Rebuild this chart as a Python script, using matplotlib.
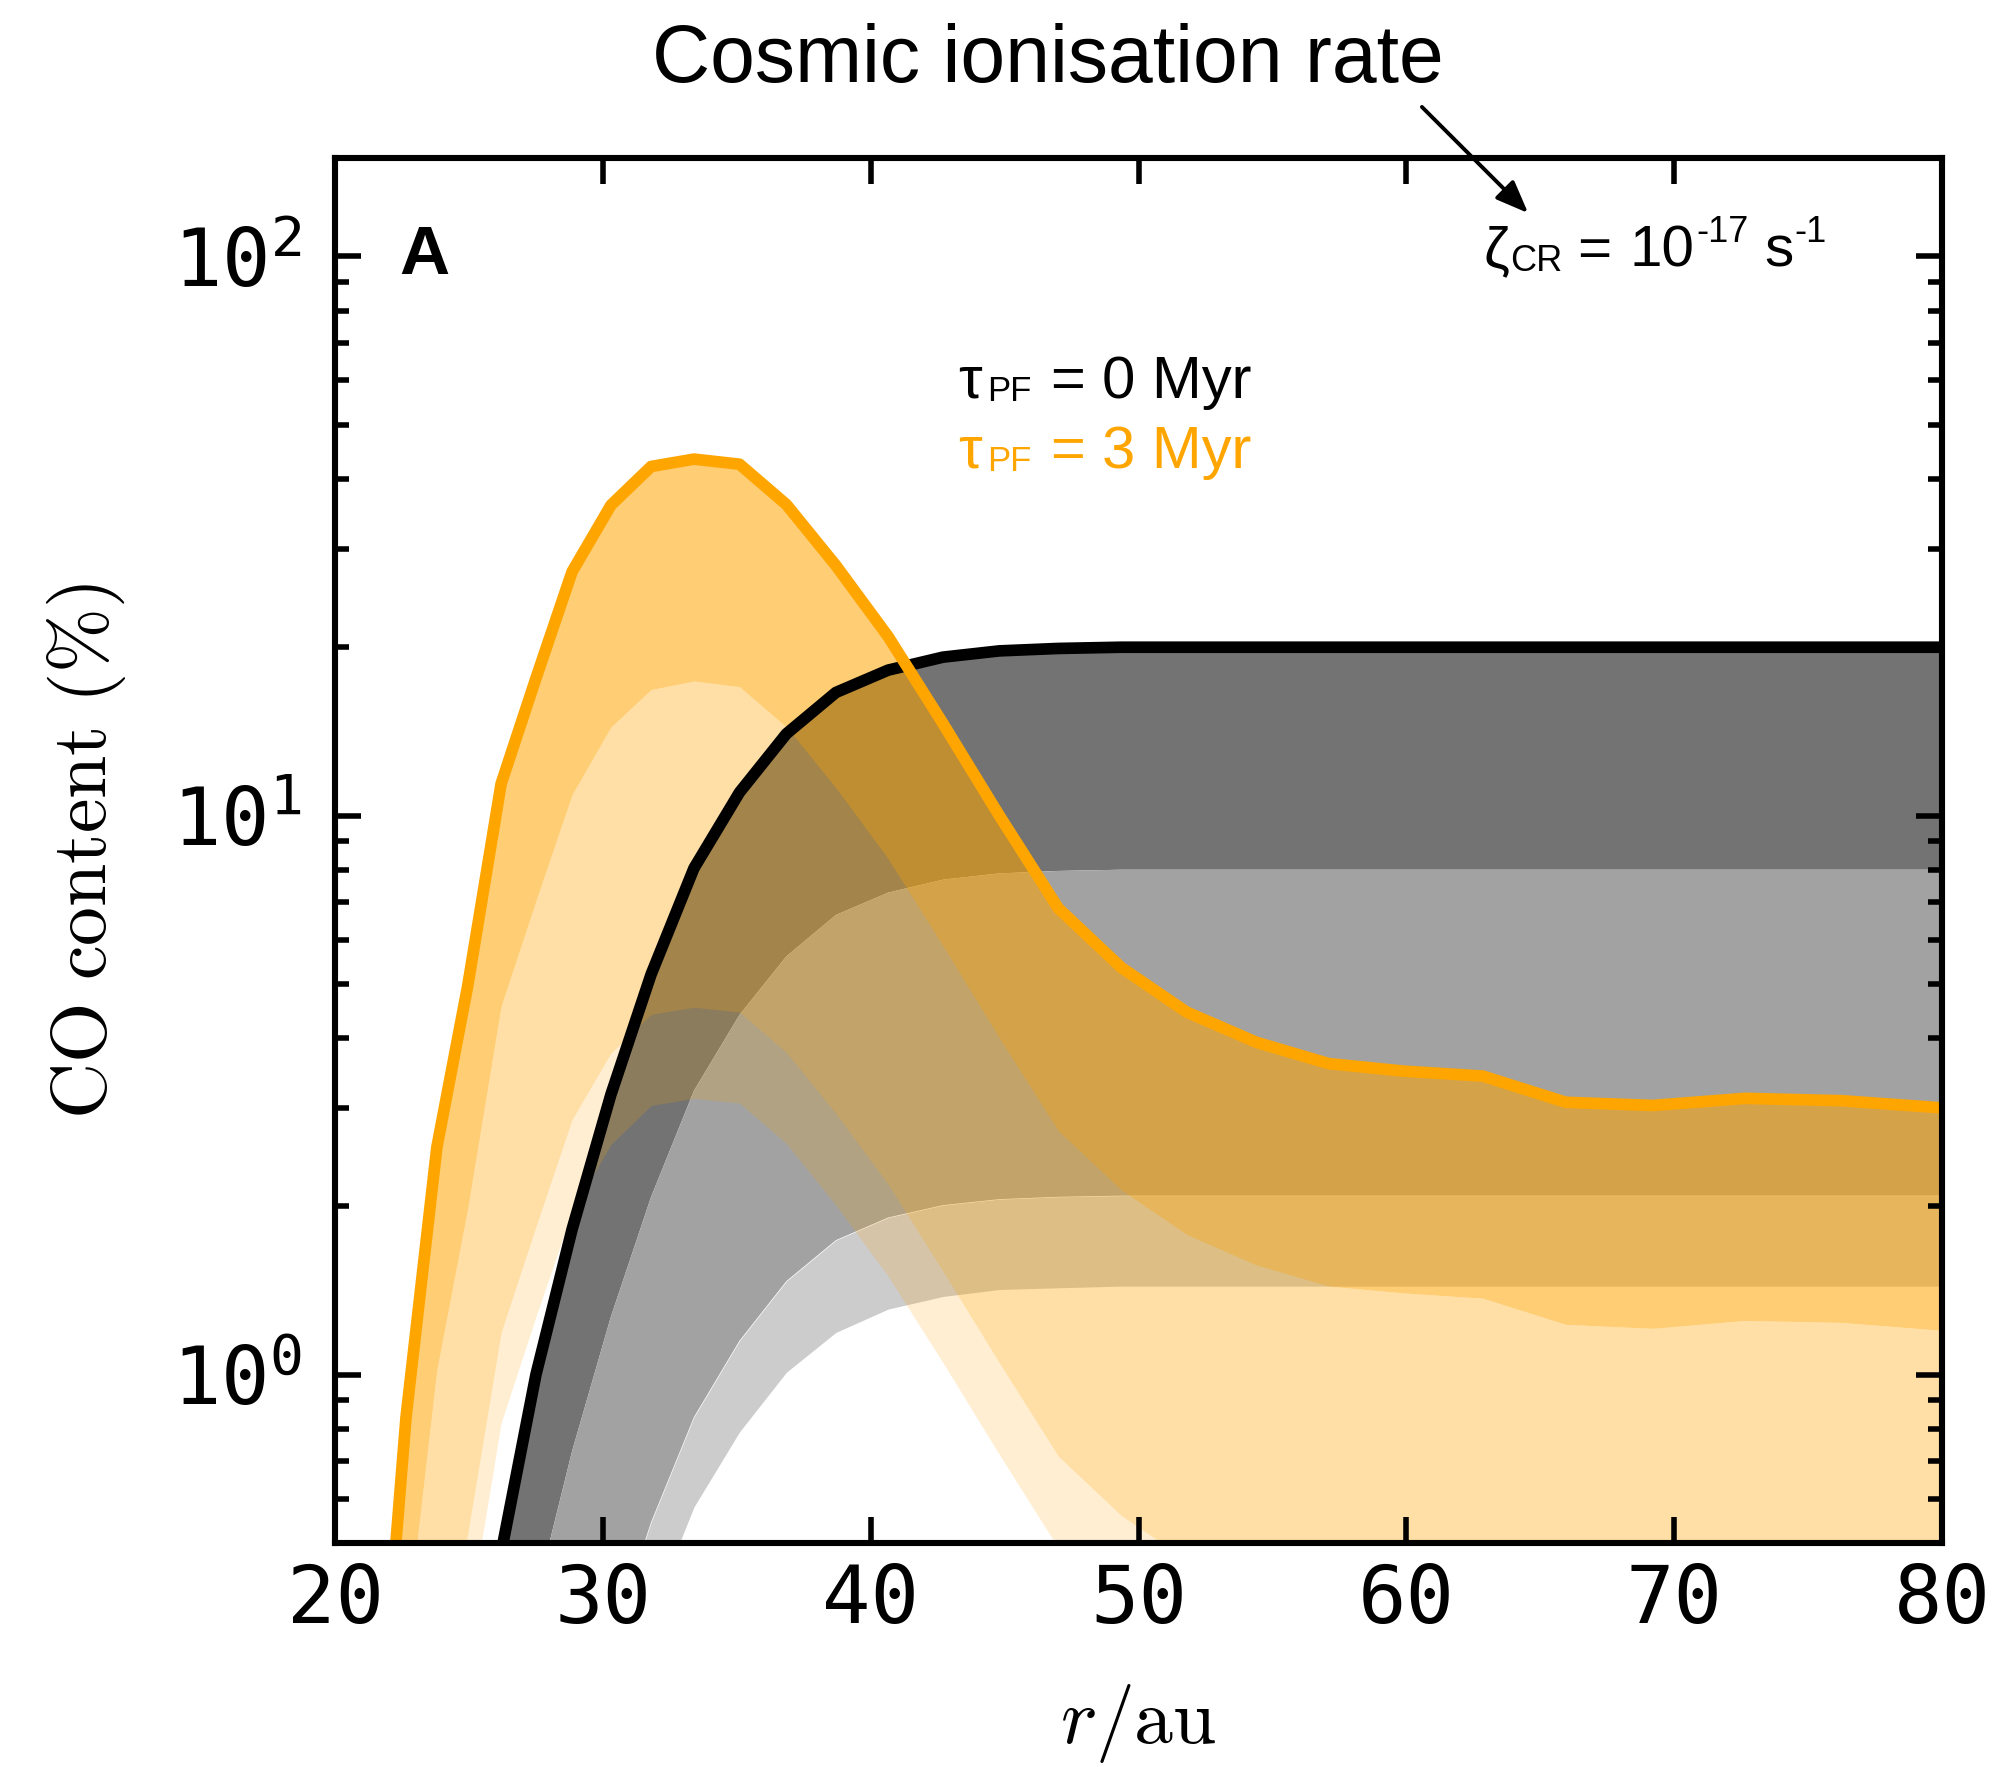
import matplotlib
matplotlib.use("Agg")
import matplotlib.pyplot as plt
from matplotlib.transforms import offset_copy

# radius grid (au) and CO content (%)
r_au = [21.6, 22.65, 23.8, 24.95, 26.2, 27.5, 28.85, 30.3, 31.8, 33.4, 35.1, 36.85,
        38.7, 40.65, 42.7, 44.8, 47.0, 49.35, 51.8, 54.4, 57.1, 59.9, 62.85, 65.95,
        69.2, 72.65, 76.25, 80.0]

# tau_PF = 0 Myr: median line and lower band edges
co_0myr = [0.02, 0.04, 0.08, 0.17, 0.48, 1.0, 1.82, 3.17, 5.2, 8.05, 11.0, 14.0,
           16.6, 18.2, 19.2, 19.7, 19.9, 20.0, 20.0, 20.0, 20.0, 20.0, 20.0, 20.0,
           20.0, 20.0, 20.0, 20.0]
co_0myr_b1 = [0.008, 0.016, 0.032, 0.068, 0.19, 0.4, 0.73, 1.27, 2.08, 3.22, 4.4, 5.6,
              6.64, 7.28, 7.68, 7.88, 7.96, 8.0, 8.0, 8.0, 8.0, 8.0, 8.0, 8.0,
              8.0, 8.0, 8.0, 8.0]
co_0myr_b2 = [0.002, 0.004, 0.008, 0.018, 0.05, 0.105, 0.19, 0.33, 0.545, 0.84, 1.15, 1.47,
              1.74, 1.91, 2.01, 2.06, 2.08, 2.09, 2.09, 2.09, 2.09, 2.09, 2.09, 2.09,
              2.09, 2.09, 2.09, 2.09]
co_0myr_b3 = [0.0015, 0.003, 0.006, 0.012, 0.035, 0.072, 0.13, 0.228, 0.374, 0.58, 0.79, 1.01,
              1.19, 1.31, 1.38, 1.42, 1.43, 1.44, 1.44, 1.44, 1.44, 1.44, 1.44, 1.44,
              1.44, 1.44, 1.44, 1.44]

# tau_PF = 3 Myr: median line and lower band edges
co_3myr = [0.2, 0.84, 2.55, 4.95, 11.4, 17.6, 27.3, 35.9, 42.1, 43.4, 42.5, 36.0,
           28.0, 20.9, 14.6, 10.0, 6.83, 5.35, 4.45, 3.93, 3.6, 3.49, 3.42, 3.07,
           3.03, 3.12, 3.09, 3.0]
co_3myr_b1 = [0.08, 0.34, 1.02, 1.98, 4.56, 7.04, 10.9, 14.4, 16.8, 17.4, 17.0, 14.4,
              11.2, 8.36, 5.84, 4.0, 2.73, 2.14, 1.78, 1.57, 1.44, 1.40, 1.37, 1.23,
              1.21, 1.25, 1.24, 1.2]
co_3myr_b2 = [0.021, 0.088, 0.267, 0.518, 1.19, 1.84, 2.86, 3.76, 4.41, 4.54, 4.45, 3.77,
              2.93, 2.19, 1.53, 1.05, 0.715, 0.56, 0.466, 0.41, 0.377, 0.365, 0.358, 0.321,
              0.317, 0.327, 0.324, 0.314]
co_3myr_b3 = [0.014, 0.06, 0.183, 0.356, 0.82, 1.27, 1.96, 2.58, 3.03, 3.12, 3.06, 2.59,
              2.01, 1.5, 1.05, 0.72, 0.49, 0.385, 0.32, 0.283, 0.259, 0.251, 0.246, 0.221,
              0.218, 0.224, 0.222, 0.216]

ORANGE = "#ffa500"
SANS = "Liberation Sans"

plt.rcParams["font.family"] = ["DejaVu Sans Mono"]

fig = plt.figure(figsize=(9.99, 8.835), dpi=200)
ax = fig.add_axes([0.1677, 0.1268, 0.8043, 0.7838])

# grey bands (0 Myr)
ax.fill_between(r_au, co_0myr_b1, co_0myr, color="#737373", lw=0)
ax.fill_between(r_au, co_0myr_b2, co_0myr_b1, color="#a2a2a2", lw=0)
ax.fill_between(r_au, co_0myr_b3, co_0myr_b2, color="#cccccc", lw=0)

# orange bands (3 Myr)
ax.fill_between(r_au, co_3myr_b1, co_3myr, color=ORANGE, alpha=0.55, lw=0)
ax.fill_between(r_au, co_3myr_b2, co_3myr_b1, color=ORANGE, alpha=0.35, lw=0)
ax.fill_between(r_au, co_3myr_b3, co_3myr_b2, color=ORANGE, alpha=0.18, lw=0)

ax.plot(r_au, co_0myr, color="black", lw=4.2)
ax.plot(r_au, co_3myr, color=ORANGE, lw=4.2)

ax.set_yscale("log")
ax.set_xlim(20, 80)
ax.set_ylim(0.5, 150)
ax.set_xticks([20, 30, 40, 50, 60, 70, 80])

for side in ax.spines.values():
    side.set_linewidth(2.2)
ax.tick_params(which="both", direction="in", top=True, right=True, width=2.0)
ax.tick_params(which="major", length=9.5, labelsize=29)
ax.tick_params(which="minor", length=5)
ax.tick_params(axis="x", which="minor", top=False, bottom=False)
ax.tick_params(axis="x", pad=7)
ax.tick_params(axis="y", pad=12)

ax.set_xlabel(r"$r/\mathrm{au}$", fontsize=28, math_fontfamily="cm", labelpad=15)
ax.set_ylabel(r"$\mathrm{CO\ content\ (\%)}$", fontsize=28, math_fontfamily="cm")
ax.yaxis.set_label_coords(-0.129, 0.5)

renderer = fig.canvas.get_renderer()


def text_run(x, y, parts, color):
    # parts: (text, fontsize, vertical shift in pt, gap after in pt)
    dx = 0.0
    for s, size, dy, gap in parts:
        tr = offset_copy(ax.transAxes, fig=fig, x=dx, y=dy, units="points")
        t = ax.text(x, y, s, transform=tr, fontsize=size, family=SANS,
                    color=color, va="baseline", ha="left")
        dx += t.get_window_extent(renderer).width * 72 / fig.dpi + gap


ax.text(0.04, 0.9163, "A", transform=ax.transAxes, fontsize=25, fontweight="bold",
        family=SANS, va="baseline")

text_run(0.7144, 0.9213,
         [("\u03b6", 21, 0, 0.6), ("CR", 13, -1.4, 5.2), ("=", 21, 0, 6.6),
          ("10", 21, 0, 0.8), ("-17", 13, 9, 5.5), ("s", 21, 0, 0.4), ("-1", 13, 9, 0)],
         "black")
text_run(0.3877, 0.8267,
         [("\u03c4", 21.5, 0, 1.8), ("PF", 12.5, -1.0, 7.0), ("=", 21.5, 0, 6.0),
          ("0 Myr", 21.5, 0, 0)], "black")
text_run(0.3877, 0.7762,
         [("\u03c4", 21.5, 0, 1.8), ("PF", 12.5, -1.0, 7.0), ("=", 21.5, 0, 6.0),
          ("3 Myr", 21.5, 0, 0)], ORANGE)

fig.text(0.5245, 0.9536, "Cosmic ionisation rate", fontsize=29, family=SANS,
         ha="center", va="baseline")
ax.annotate("", xy=(0.7668, 0.8772), xytext=(0.7097, 0.9417),
            xycoords="figure fraction", textcoords="figure fraction",
            arrowprops=dict(arrowstyle="-|>,head_length=0.45,head_width=0.18",
                            color="black", lw=1.4, mutation_scale=22),
            annotation_clip=False)

fig.savefig("out.png", dpi=200)
plt.close(fig)
